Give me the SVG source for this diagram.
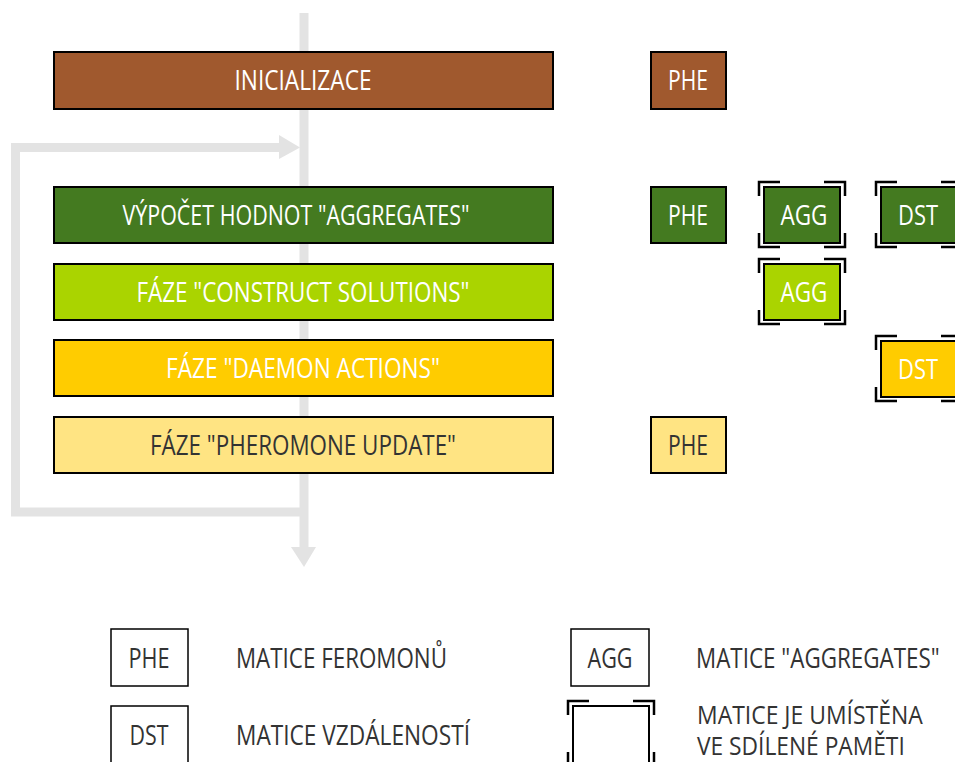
<svg xmlns="http://www.w3.org/2000/svg" xmlns:xlink="http://www.w3.org/1999/xlink" width="955" height="762" viewBox="0 0 955 762">
<style>
text{font-family:"Open Sans","Noto Sans","Liberation Sans",sans-serif;font-size:27px;font-weight:400;}
.w{fill:#ffffff;}
.d{fill:#333333;}
.bar{stroke:#000;stroke-width:2;}
.box{stroke:#000;stroke-width:2;}
.flow{fill:none;stroke:#e3e3e3;stroke-width:9;}
.ah{fill:#e3e3e3;}
.br{fill:none;stroke:#000;stroke-width:2.5;}
.two{font-size:26px;}
</style>
<defs>
<g id="brk">
<path class="br" d="M-4,10 V-4 H17 M61,-4 H82 V10 M82,47 V61 H61 M17,61 H-4 V47"/>
</g>
</defs>
<g id="connectors">
<path class="flow" d="M304,13 V550"/>
<polygon class="ah" points="291,547 316,547 304,567"/>
<path class="flow" d="M300,512 H15.5 V147.5 H282"/>
<polygon class="ah" points="279,135 300,147.5 279,159"/>
</g>
<g id="init">
<rect class="bar" x="54" y="52" width="499" height="57" fill="#a0592e"/>
<text class="w" x="303" y="90" text-anchor="middle" textLength="137" lengthAdjust="spacingAndGlyphs">INICIALIZACE</text>
</g>
<g id="aggregates">
<rect class="bar" x="54" y="187" width="499" height="56" fill="#447a20"/>
<text class="w" x="296" y="225" text-anchor="middle" textLength="347" lengthAdjust="spacingAndGlyphs">VÝPOČET HODNOT "AGGREGATES"</text>
</g>
<g id="construct">
<rect class="bar" x="54" y="264" width="499" height="56" fill="#aad400"/>
<text class="w" x="303" y="302" text-anchor="middle" textLength="333" lengthAdjust="spacingAndGlyphs">FÁZE "CONSTRUCT SOLUTIONS"</text>
</g>
<g id="daemon">
<rect class="bar" x="54" y="340" width="499" height="56" fill="#ffcc00"/>
<text class="w" x="303" y="378" text-anchor="middle" textLength="274" lengthAdjust="spacingAndGlyphs">FÁZE "DAEMON ACTIONS"</text>
</g>
<g id="pheromone">
<rect class="bar" x="54" y="417" width="499" height="56" fill="#ffe483"/>
<text class="d" x="303" y="455" text-anchor="middle" textLength="306" lengthAdjust="spacingAndGlyphs">FÁZE "PHEROMONE UPDATE"</text>
</g>
<g id="phe1">
<rect class="box" x="651" y="52" width="75" height="57" fill="#a0592e"/>
<text class="w" x="688" y="90" text-anchor="middle" textLength="40" lengthAdjust="spacingAndGlyphs">PHE</text>
</g>
<g id="phe2">
<rect class="box" x="651" y="187" width="75" height="56" fill="#447a20"/>
<text class="w" x="688" y="225" text-anchor="middle" textLength="40" lengthAdjust="spacingAndGlyphs">PHE</text>
</g>
<g id="agg1">
<rect class="box" x="764" y="187" width="76" height="56" fill="#447a20"/>
<use xlink:href="#brk" transform="translate(763,186)"/>
<text class="w" x="804" y="225" text-anchor="middle" textLength="47" lengthAdjust="spacingAndGlyphs">AGG</text>
</g>
<g id="dst1">
<rect class="box" x="881" y="187" width="80" height="56" fill="#447a20"/>
<use xlink:href="#brk" transform="translate(880,186)"/>
<text class="w" x="918" y="225" text-anchor="middle" textLength="40" lengthAdjust="spacingAndGlyphs">DST</text>
</g>
<g id="agg2">
<rect class="box" x="764" y="264" width="76" height="56" fill="#aad400"/>
<use xlink:href="#brk" transform="translate(763,263)"/>
<text class="w" x="804" y="302" text-anchor="middle" textLength="47" lengthAdjust="spacingAndGlyphs">AGG</text>
</g>
<g id="dst2">
<rect class="box" x="881" y="341" width="80" height="56" fill="#ffcc00"/>
<use xlink:href="#brk" transform="translate(880,340)"/>
<text class="w" x="918" y="379" text-anchor="middle" textLength="40" lengthAdjust="spacingAndGlyphs">DST</text>
</g>
<g id="phe3">
<rect class="box" x="651" y="417" width="75" height="56" fill="#ffe483"/>
<text class="d" x="688" y="455" text-anchor="middle" textLength="40" lengthAdjust="spacingAndGlyphs">PHE</text>
</g>
<g id="legend-phe">
<rect x="111" y="629" width="77" height="57" fill="#fff" stroke="#000" stroke-width="1.5"/>
<text class="d" x="149" y="668" text-anchor="middle" textLength="41" lengthAdjust="spacingAndGlyphs">PHE</text>
<text class="d" x="236" y="668" textLength="211" lengthAdjust="spacingAndGlyphs">MATICE FEROMONŮ</text>
</g>
<g id="legend-dst">
<rect x="111" y="706" width="77" height="60" fill="#fff" stroke="#000" stroke-width="1.5"/>
<text class="d" x="149" y="745" text-anchor="middle" textLength="39" lengthAdjust="spacingAndGlyphs">DST</text>
<text class="d" x="236" y="745" textLength="234" lengthAdjust="spacingAndGlyphs">MATICE VZDÁLENOSTÍ</text>
</g>
<g id="legend-agg">
<rect x="571" y="629" width="78" height="57" fill="#fff" stroke="#000" stroke-width="1.5"/>
<text class="d" x="610" y="668" text-anchor="middle" textLength="45" lengthAdjust="spacingAndGlyphs">AGG</text>
<text class="d" transform="translate(696,668) scale(0.75,1)" x="0" y="0" textLength="325" lengthAdjust="spacingAndGlyphs">MATICE "AGGREGATES"</text>
</g>
<g id="legend-shared">
<rect x="573" y="706" width="76" height="60" fill="#fff" stroke="#000" stroke-width="2"/>
<use xlink:href="#brk" transform="translate(572,705)"/>
<text class="d two" transform="translate(697,724) scale(0.75,1)" x="0" y="0" textLength="301" lengthAdjust="spacingAndGlyphs">MATICE JE UMÍSTĚNA</text>
<text class="d two" transform="translate(697,755) scale(0.75,1)" x="0" y="0" textLength="277" lengthAdjust="spacingAndGlyphs">VE SDÍLENÉ PAMĚTI</text>
</g>
</svg>
